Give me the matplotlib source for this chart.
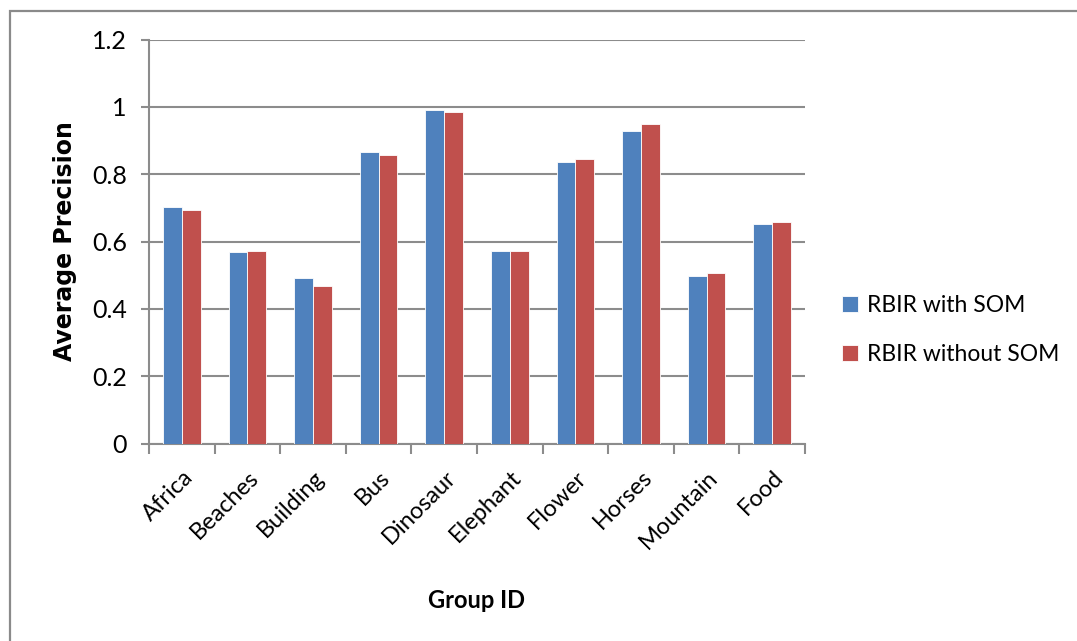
import matplotlib
matplotlib.use("Agg")
import matplotlib.pyplot as plt
from matplotlib.patches import Rectangle
import numpy as np

categories = ["Africa", "Beaches", "Building", "Bus", "Dinosaur",
              "Elephant", "Flower", "Horses", "Mountain", "Food"]
with_som = [0.701, 0.569, 0.491, 0.865, 0.991, 0.571, 0.836, 0.927, 0.497, 0.653]
without_som = [0.695, 0.573, 0.468, 0.856, 0.986, 0.573, 0.845, 0.949, 0.505, 0.658]
series_names = ["RBIR with SOM", "RBIR without SOM"]
y_ticks = [0, 0.2, 0.4, 0.6, 0.8, 1.0, 1.2]
y_tick_labels = ["0", "0.2", "0.4", "0.6", "0.8", "1", "1.2"]

BLUE = "#4F81BD"
RED = "#C0504D"
GRID = "#8C8C8C"

plt.rcParams["font.family"] = ["Lato", "DejaVu Sans"]

fig = plt.figure(figsize=(10.77, 6.41), dpi=100)
ax = fig.add_axes([149 / 1077, 1 - 443.5 / 641, 656 / 1077, 404 / 641])

# outer chart frame
fig.patches.append(Rectangle((9.5 / 1077, -0.2), 2.0, 1.2 - 10.5 / 641,
                             transform=fig.transFigure, fill=False,
                             edgecolor="#8A8A8A", linewidth=1.6, zorder=0))

x = np.arange(len(categories))
w = 0.2857
ax.bar(x - w / 2, with_som, w, color=BLUE, edgecolor="white", linewidth=0.6,
       label=series_names[0], zorder=3)
ax.bar(x + w / 2, without_som, w, color=RED, edgecolor="white", linewidth=0.6,
       label=series_names[1], zorder=3)

ax.set_xlim(-0.5, len(categories) - 0.5)
ax.set_ylim(0, 1.2)
ax.set_yticks(y_ticks)
ax.set_yticklabels(y_tick_labels, fontsize=18)
ax.yaxis.grid(True, color=GRID, linewidth=1.5, zorder=0)
ax.set_axisbelow(True)

for s in ["top", "right"]:
    ax.spines[s].set_visible(False)
for s in ["left", "bottom"]:
    ax.spines[s].set_color(GRID)
    ax.spines[s].set_linewidth(1.5)

ax.tick_params(axis="y", length=6, width=1.5, color=GRID, pad=10)

# category boundary ticks on x axis
ax.set_xticks(np.arange(-0.5, len(categories), 1.0))
ax.set_xticklabels([])
ax.tick_params(axis="x", length=7, width=1.5, color=GRID)
for xi, name in zip(x, categories):
    ax.annotate(name, xy=(xi + 0.12, 0), xycoords=("data", "axes fraction"),
                xytext=(0, -22), textcoords="offset points",
                rotation=45, ha="right", va="center", rotation_mode="anchor",
                fontsize=17)

ax.set_ylabel("Average Precision", fontsize=17, fontweight="bold",
              family=["DejaVu Sans"])
ax.yaxis.set_label_coords(-0.109, 0.5)
fig.text(477 / 1077, 1 - 601 / 641, "Group ID", fontsize=17, fontweight="bold",
         ha="center", va="center")

fig.legend(loc="center left", bbox_to_anchor=(821 / 1077, 1 - 330 / 641),
           frameon=False, fontsize=16.5, handlelength=0.7, handleheight=0.7,
           handletextpad=0.4, labelspacing=1.2)

fig.savefig("out.png", dpi=100)
